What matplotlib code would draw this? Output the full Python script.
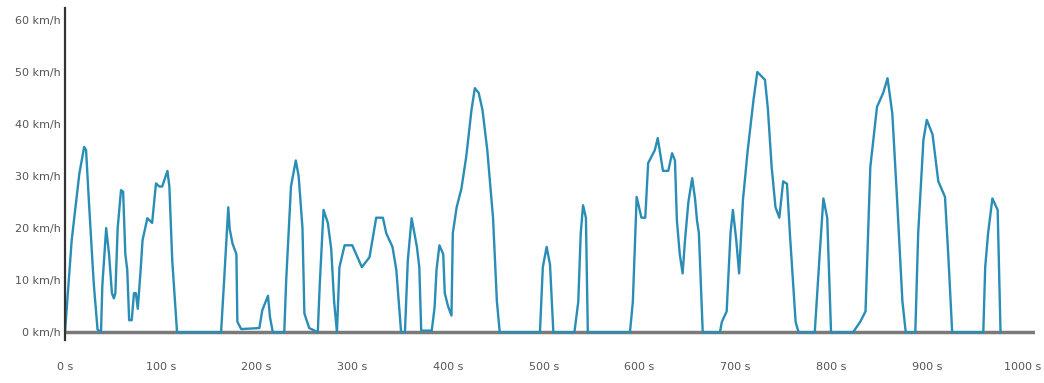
import numpy as np
from matplotlib import pyplot as plt

# speed profile: time (s) and speed (km/h)
t = [0, 7, 15, 20, 22, 25, 30, 34, 37.6,
     39, 43, 46, 49, 51, 52.6, 55, 58.5, 60.7, 63, 65, 67, 69.7, 72, 74, 76, 79, 81,
     86, 91, 95, 98.5, 101.5, 107, 109, 112, 117,
     163, 166, 170.5, 172, 175, 179, 180, 184, 203,
     206, 212, 214, 217, 229,
     231, 236, 241, 244, 248, 250, 255, 264,
     266, 270, 274.5, 278, 281, 284,
     286.6, 292, 300, 310, 318, 325, 332, 335.5, 342, 346, 351, 355,
     358, 362, 367.5, 370, 372, 383,
     386, 388, 391, 395, 396.6, 400, 403.6, 405, 409, 414, 419, 424.5, 428, 432,
     436, 441, 447, 451, 454, 496,
     499, 503, 506.5, 510, 532,
     536, 538.6, 541, 544, 546, 590,
     593, 597, 602, 606, 609, 616, 619, 624.5, 630, 634, 637, 639, 642, 645,
     647.5, 651, 655, 658, 660, 662, 666, 684,
     686, 691, 695, 697.5, 701, 704, 708, 713, 719, 723, 731, 734, 738, 742,
     746, 750, 754, 757, 763, 766, 783,
     788, 792, 796, 800, 823,
     830.5, 836, 841, 848, 854.5, 859, 864, 869, 874.5, 878, 888,
     891, 896.5, 900, 906, 912, 919, 922.5, 926.5, 959,
     961, 964, 968.5, 974, 977]
v = [0, 17.7, 30.5, 35.6, 35, 25, 9.4, 0.5, 0,
     9, 20, 15, 7.5, 6.5, 7.5, 20, 27.3, 27, 15, 12, 2.3, 2.3, 7.5, 7.5, 4.5, 12, 17.7,
     21.9, 21, 28.6, 28, 28, 31, 28, 13.8, 0,
     0, 9.4, 24, 19.8, 17, 15, 2, 0.6, 0.8,
     4.2, 7, 3, 0, 0,
     10, 28, 33, 30, 20, 3.6, 0.8, 0,
     9, 23.5, 21, 16, 6, 0,
     12.5, 16.7, 16.7, 12.5, 14.4, 22, 22, 19, 16.4, 12, 0, 0,
     13.8, 21.9, 16.4, 12.5, 0.3, 0.3,
     4.8, 12, 16.7, 15, 7.5, 5, 3.2, 19, 24, 27.6, 33.7, 42.7, 46.9, 46,
     42.7, 35, 22, 6, 0, 0,
     12.5, 16.4, 13, 0, 0,
     5.8, 19, 24.4, 22, 0, 0,
     5.8, 26, 22, 22, 32.5, 35, 37.3, 31, 31, 34.4, 33, 21.5, 15, 11.3,
     17.7, 25, 29.6, 25.6, 21.5, 19, 0, 0,
     2, 4, 19, 23.5, 17.7, 11.3, 25.4, 35, 44.6, 50, 48.5, 43, 31.7, 24,
     22, 29, 28.5, 19, 2, 0, 0,
     14.6, 25.7, 22, 0, 0,
     2, 4, 31.7, 43.3, 46, 48.8, 42, 25.4, 6, 0, 0,
     19, 37, 40.8, 38, 29, 26, 14.6, 0, 0,
     12.5, 19, 25.7, 23.5, 0]

y_ticks = [0, 10, 20, 30, 40, 50, 60]
x_ticks = [0, 100, 200, 300, 400, 500, 600, 700, 800, 900, 1000]

fig = plt.figure(figsize=(10.44, 3.83), dpi=100)
ax = fig.add_axes([65 / 1044, 43 / 383, 970 / 1044, 332 / 383])

ax.axhline(0, color='#7a7a7a', lw=2.5, zorder=1)
ax.plot(t, v, color='#2a8db5', lw=1.7, solid_joinstyle='round', zorder=2)

ax.set_xlim(0, 1013)
ax.set_ylim(-1.5, 62.3)
for s in ['top', 'right', 'bottom']:
    ax.spines[s].set_visible(False)
ax.spines['left'].set_color('#333333')
ax.spines['left'].set_linewidth(1.6)

ax.set_yticks(y_ticks)
ax.set_yticklabels(['%d km/h' % y for y in y_ticks])
ax.set_xticks(x_ticks)
ax.set_xticklabels(['%d s' % x for x in x_ticks])
ax.tick_params(axis='both', length=0, labelsize=8, labelcolor='#555555')
ax.tick_params(axis='x', pad=16)
ax.tick_params(axis='y', pad=3)

plt.savefig('out.png', dpi=100)
